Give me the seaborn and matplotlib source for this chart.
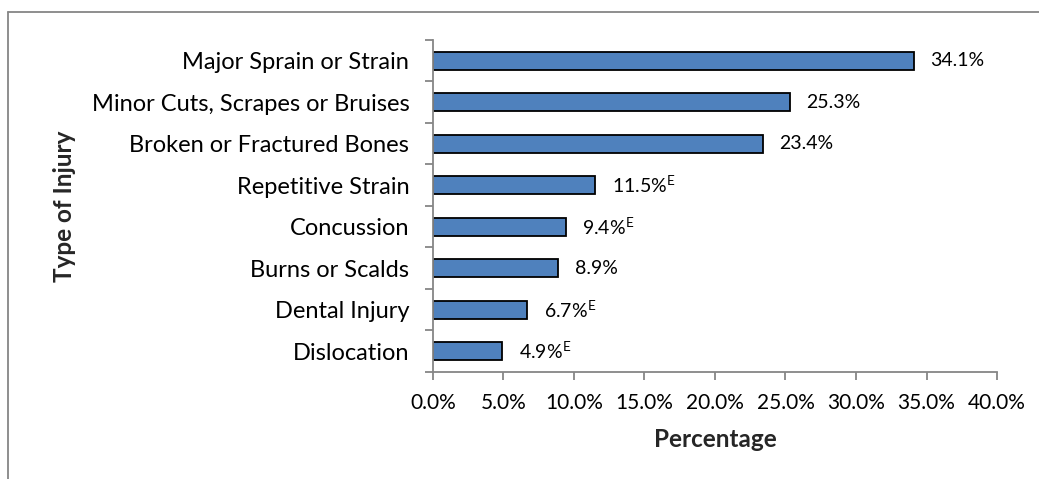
import matplotlib
matplotlib.use("Agg")
import matplotlib.pyplot as plt
import seaborn as sns
import pandas as pd
from matplotlib.ticker import FixedLocator, FuncFormatter
from matplotlib.lines import Line2D

categories = ["Major Sprain or Strain", "Minor Cuts, Scrapes or Bruises",
              "Broken or Fractured Bones", "Repetitive Strain", "Concussion",
              "Burns or Scalds", "Dental Injury", "Dislocation"]
values = [34.1, 25.3, 23.4, 11.5, 9.4, 8.9, 6.7, 4.9]
estimate_flags = [False, False, False, True, True, False, True, True]
x_ticks = [0, 5, 10, 15, 20, 25, 30, 35, 40]

sns.set_theme(style="white")
plt.rcParams["font.family"] = ["Lato", "DejaVu Sans"]
plt.rcParams["mathtext.fontset"] = "custom"
plt.rcParams["mathtext.rm"] = "Lato"
plt.rcParams["mathtext.it"] = "Lato"

df = pd.DataFrame({"Type of Injury": categories, "Percentage": values})

fig = plt.figure(figsize=(10.39, 4.79), dpi=100)
ax = fig.add_axes([0.4167, 0.2234, 0.9596 - 0.4167, 0.9165 - 0.2234])

sns.barplot(data=df, y="Type of Injury", x="Percentage", orient="h",
            color="#4F81BD", saturation=1, width=0.44,
            edgecolor="black", linewidth=1.3, ax=ax)

ax.set_xlim(0, 40)
ax.set_ylim(len(categories) - 0.5, -0.5)
ax.xaxis.set_major_locator(FixedLocator(x_ticks))
ax.xaxis.set_major_formatter(FuncFormatter(lambda v, p: f"{v:.1f}%"))

for sp in ["top", "right"]:
    ax.spines[sp].set_visible(False)
for sp in ["left", "bottom"]:
    ax.spines[sp].set_color("#868686")
    ax.spines[sp].set_linewidth(1.3)

ax.tick_params(axis="x", which="major", direction="out", length=6, width=1.3,
               color="#868686", labelsize=15, labelcolor="black", pad=9, bottom=True)
ax.tick_params(axis="y", which="major", length=0, labelsize=17, labelcolor="black", pad=17)
ax.yaxis.set_minor_locator(FixedLocator([i - 0.5 for i in range(len(categories) + 1)]))
ax.tick_params(axis="y", which="minor", direction="out", length=6, width=1.3,
               color="#868686", left=True)

for i, (v, e) in enumerate(zip(values, estimate_flags)):
    label = f"{v:.1f}%" + (r"$^{\mathrm{E}}$" if e else "")
    ax.annotate(label, xy=(v, i), xytext=(12, 0), textcoords="offset points",
                va="center", ha="left", fontsize=14, color="black")

ax.set_xlabel("Percentage", fontsize=17.5, fontweight="bold", labelpad=11)
ax.set_ylabel("Type of Injury", fontsize=17.5, fontweight="bold", labelpad=11)

# outer chart border (left and top)
fig.add_artist(Line2D([8 / 1039, 8 / 1039], [0, 1 - 12 / 479],
                      transform=fig.transFigure, color="#868686", linewidth=1.3))
fig.add_artist(Line2D([8 / 1039, 1], [1 - 12 / 479, 1 - 12 / 479],
                      transform=fig.transFigure, color="#868686", linewidth=1.3))

fig.savefig("out.png", dpi=100, facecolor="white")
